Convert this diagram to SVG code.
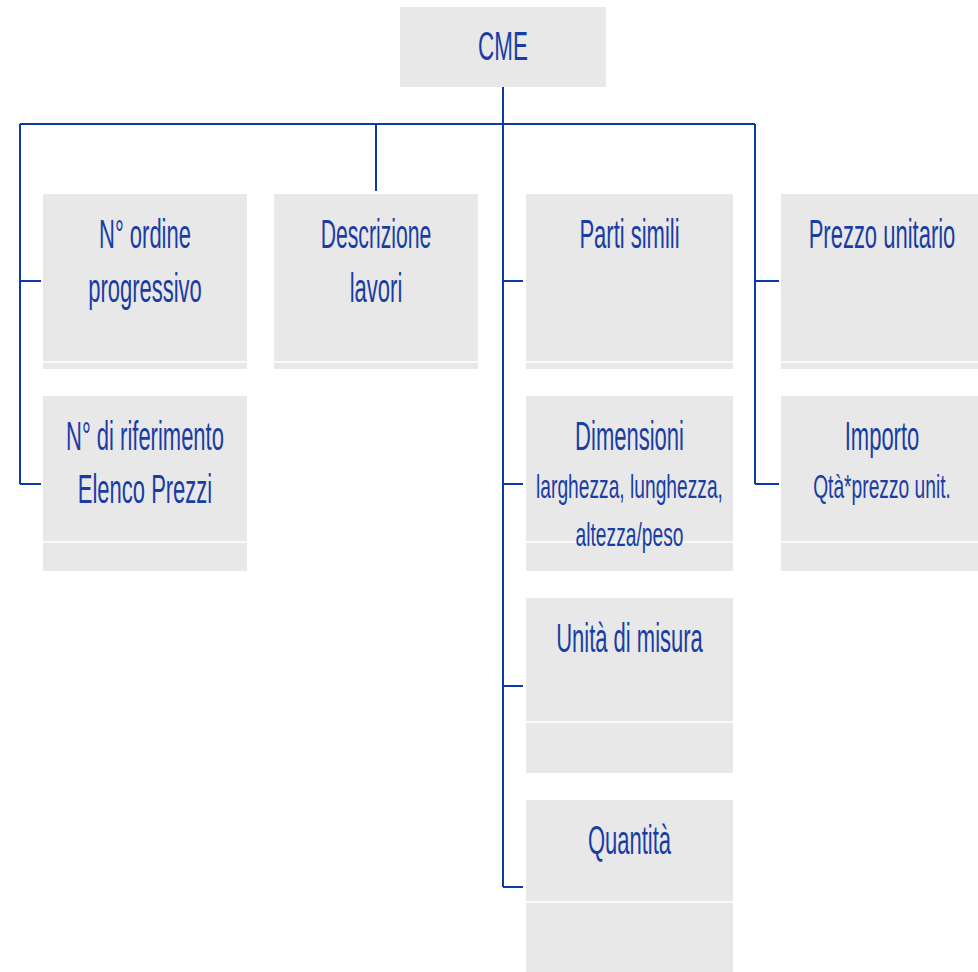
<svg xmlns="http://www.w3.org/2000/svg" width="978" height="972" viewBox="0 0 978 972">
<style>
.box{fill:#e8e8e8}
.sep{stroke:#ffffff;stroke-width:1.5}
.t{font-family:"Liberation Sans",Arial,sans-serif;font-size:40px;fill:#1a3da3;text-anchor:middle}
.s{font-size:34px}
.c{fill:none;stroke:#0b3aa6;stroke-width:2}
</style>
<rect width="978" height="972" fill="#ffffff"/>
<g id="connectors">
<path class="c" d="M503,87 V887 M20,124 H755 M20,124 V484 M20,281 H41 M20,484 H41 M376,124 V191 M503,281 H523 M503,484 H523 M503,686 H523 M503,887 H523 M755,124 V484 M755,281 H779 M755,484 H779"/>
</g>
<g id="cme">
<rect class="box" x="400" y="7" width="206" height="80"/>
<text class="t" transform="matrix(0.56,0,0,1,503,0)" y="60" font-size="42">CME</text>
</g>
<g id="ordine">
<rect class="box" x="43" y="194" width="204" height="175"/>
<line class="sep" x1="43" y1="362" x2="247" y2="362"/>
<text class="t" transform="matrix(0.55,0,0,1,145,0)" y="248">N° ordine</text>
<text class="t" transform="matrix(0.55,0,0,1,145,0)" y="302">progressivo</text>
</g>
<g id="descrizione">
<rect class="box" x="274" y="194" width="204" height="175"/>
<line class="sep" x1="274" y1="362" x2="478" y2="362"/>
<text class="t" transform="matrix(0.53,0,0,1,376,0)" y="248">Descrizione</text>
<text class="t" transform="matrix(0.55,0,0,1,376,0)" y="302">lavori</text>
</g>
<g id="parti">
<rect class="box" x="526" y="194" width="207" height="175"/>
<line class="sep" x1="526" y1="362" x2="733" y2="362"/>
<text class="t" transform="matrix(0.55,0,0,1,629.5,0)" y="248">Parti simili</text>
</g>
<g id="prezzo">
<rect class="box" x="781" y="194" width="206" height="175"/>
<line class="sep" x1="781" y1="362" x2="987" y2="362"/>
<text class="t" transform="matrix(0.55,0,0,1,882,0)" y="248">Prezzo unitario</text>
</g>
<g id="riferimento">
<rect class="box" x="43" y="396" width="204" height="175"/>
<line class="sep" x1="43" y1="542" x2="247" y2="542"/>
<text class="t" transform="matrix(0.55,0,0,1,145,0)" y="450">N° di riferimento</text>
<text class="t" transform="matrix(0.55,0,0,1,145,0)" y="503">Elenco Prezzi</text>
</g>
<g id="dimensioni">
<rect class="box" x="526" y="396" width="207" height="175"/>
<line class="sep" x1="526" y1="542" x2="733" y2="542"/>
<text class="t" transform="matrix(0.55,0,0,1,629.5,0)" y="450">Dimensioni</text>
<text class="t s" transform="matrix(0.565,0,0,1,629.5,0)" y="498">larghezza, lunghezza,</text>
<text class="t s" transform="matrix(0.565,0,0,1,629.5,0)" y="546">altezza/peso</text>
</g>
<g id="importo">
<rect class="box" x="781" y="396" width="206" height="175"/>
<line class="sep" x1="781" y1="542" x2="987" y2="542"/>
<text class="t" transform="matrix(0.55,0,0,1,882,0)" y="450">Importo</text>
<text class="t s" transform="matrix(0.565,0,0,1,882,0)" y="498">Qtà*prezzo unit.</text>
</g>
<g id="unita">
<rect class="box" x="526" y="598" width="207" height="175"/>
<line class="sep" x1="526" y1="722" x2="733" y2="722"/>
<text class="t" transform="matrix(0.55,0,0,1,629.5,0)" y="652">Unità di misura</text>
</g>
<g id="quantita">
<rect class="box" x="526" y="800" width="207" height="175"/>
<line class="sep" x1="526" y1="902" x2="733" y2="902"/>
<text class="t" transform="matrix(0.55,0,0,1,629.5,0)" y="854">Quantità</text>
</g>
</svg>
